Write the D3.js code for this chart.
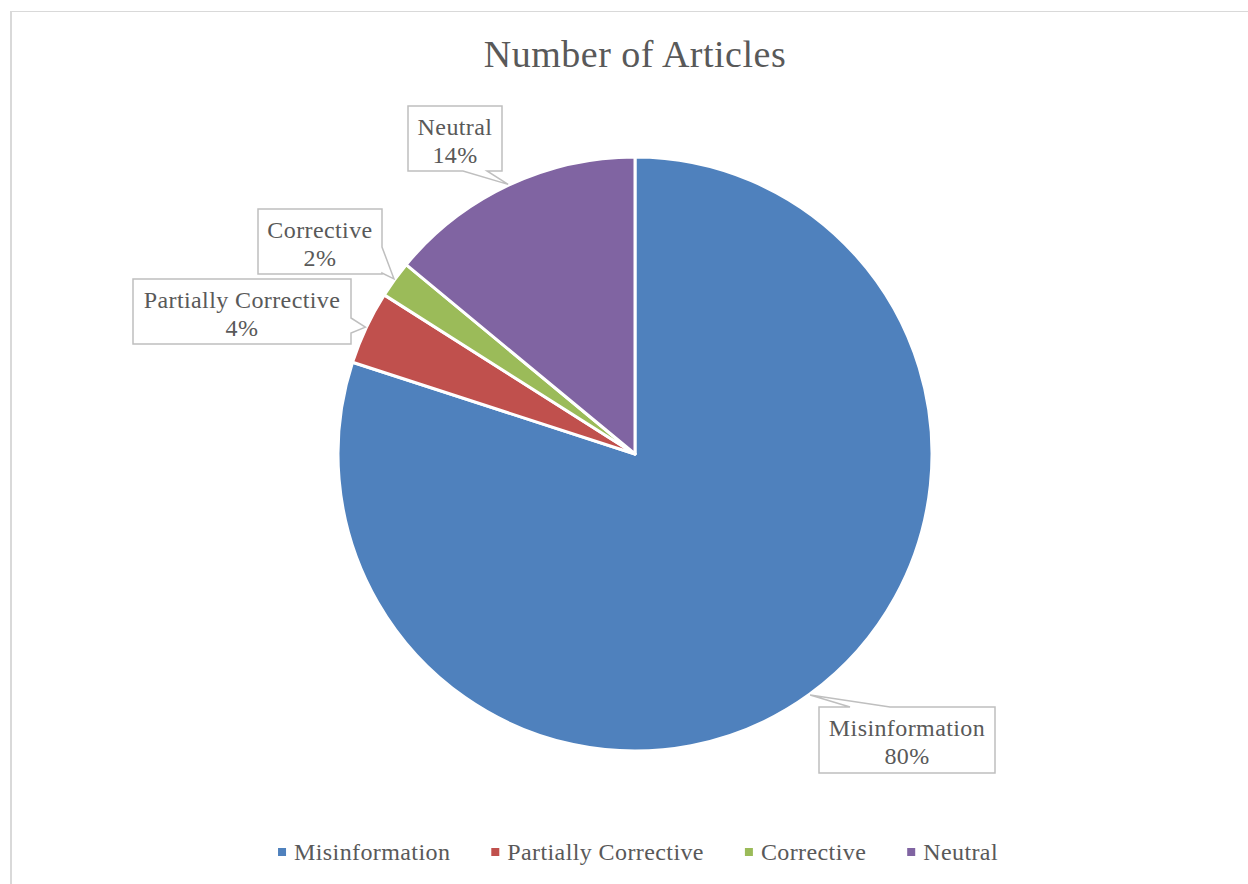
<!DOCTYPE html>
<html>
<head>
<meta charset="utf-8">
<script src="https://cdn.jsdelivr.net/npm/d3@7"></script>
<style>
  html, body { margin: 0; padding: 0; background: #fff; }
  svg { display: block; }
  text { font-family: "Liberation Serif", "DejaVu Serif", serif; fill: #595959; }
</style>
</head>
<body>
<svg id="chart" width="1248" height="884"></svg>
<script>
// ---- data ----
const title = "Number of Articles";
const categories = ["Misinformation", "Partially Corrective", "Corrective", "Neutral"];
const values = [80, 4, 2, 14];
const colors = ["#4F81BD", "#C0504D", "#9BBB59", "#8064A2"];

// ---- layout (not data) ----
const W = 1248, H = 884;
const cx = 635, cy = 454, R = 297;
// callout boxes: x, y, w, h, side of pointer, base offsets along side
const callouts = {
  "Misinformation":       { x: 819, y: 707, w: 176, h: 66, side: "top",    a: 31, b: 71 },
  "Partially Corrective": { x: 133, y: 279, w: 218, h: 65, side: "right",  a: 39, b: 54 },
  "Corrective":           { x: 258, y: 209, w: 124, h: 65, side: "right",  a: 38, b: 64 },
  "Neutral":              { x: 408, y: 106, w: 94,  h: 65, side: "bottom", a: 55, b: 79 }
};

const svg = d3.select("#chart");

// frame
svg.append("line").attr("x1", 11).attr("x2", 11).attr("y1", 11).attr("y2", H)
  .attr("stroke", "#d9d9d9").attr("stroke-width", 2);
svg.append("line").attr("x1", 10).attr("x2", W).attr("y1", 11.5).attr("y2", 11.5)
  .attr("stroke", "#d9d9d9").attr("stroke-width", 1);

// title
svg.append("text").attr("x", 635).attr("y", 67)
  .attr("text-anchor", "middle").attr("font-size", 38)
  .attr("letter-spacing", 0.5).text(title);

const data = categories.map((c, i) => ({ name: c, value: values[i], color: colors[i] }));
const total = d3.sum(values);
const pct = d3.format(".0%");

const pie = d3.pie().value(d => d.value).sort(null);
const arcs = pie(data);
const arc = d3.arc().innerRadius(0).outerRadius(R);

const g = svg.append("g").attr("transform", `translate(${cx},${cy})`);
g.selectAll("path.slice").data(arcs).join("path")
  .attr("class", "slice")
  .attr("d", arc)
  .attr("fill", d => d.data.color)
  .attr("stroke", "#fff").attr("stroke-width", 3).attr("stroke-linejoin", "round");

// callouts
function calloutPath(c, tip) {
  const { x, y, w, h, side, a, b } = c;
  const p = d3.path();
  p.moveTo(x, y);
  if (side === "top") { p.lineTo(x + a, y); p.lineTo(tip[0], tip[1]); p.lineTo(x + b, y); }
  p.lineTo(x + w, y);
  if (side === "right") { p.lineTo(x + w, y + a); p.lineTo(tip[0], tip[1]); p.lineTo(x + w, y + b); }
  p.lineTo(x + w, y + h);
  if (side === "bottom") { p.lineTo(x + b, y + h); p.lineTo(tip[0], tip[1]); p.lineTo(x + a, y + h); }
  p.lineTo(x, y + h);
  p.closePath();
  return p.toString();
}

arcs.forEach(d => {
  const c = callouts[d.data.name];
  const mid = (d.startAngle + d.endAngle) / 2;
  const tip = [cx + Math.sin(mid) * (R + 1), cy - Math.cos(mid) * (R + 1)];
  svg.append("path").attr("d", calloutPath(c, tip))
    .attr("fill", "#fff").attr("stroke", "#bfbfbf").attr("stroke-width", 1.5)
    .attr("stroke-linejoin", "miter");
  const tx = c.x + c.w / 2;
  svg.append("text").attr("x", tx).attr("y", c.y + 29).attr("text-anchor", "middle")
    .attr("font-size", 24).attr("letter-spacing", 0.4).text(d.data.name);
  svg.append("text").attr("x", tx).attr("y", c.y + 57).attr("text-anchor", "middle")
    .attr("font-size", 24).attr("letter-spacing", 0.4).text(pct(d.data.value / total));
});

// legend
const legend = svg.append("g");
const legY = 852;
const items = legend.selectAll("g.item").data(data).join("g").attr("class", "item");
items.append("rect").attr("width", 8).attr("height", 8).attr("y", legY - 4)
  .attr("fill", d => d.color);
items.append("text").attr("x", 16).attr("y", legY + 8).attr("font-size", 24)
  .attr("letter-spacing", 0.4).text(d => d.name);
let xPos = 0;
const gap = 41;
items.each(function () {
  const tw = this.querySelector("text").getComputedTextLength();
  d3.select(this).attr("transform", `translate(${xPos},0)`);
  xPos += 16 + tw + gap;
});
const legW = xPos - gap;
legend.attr("transform", `translate(${638 - legW / 2},0)`);
</script>
</body>
</html>
